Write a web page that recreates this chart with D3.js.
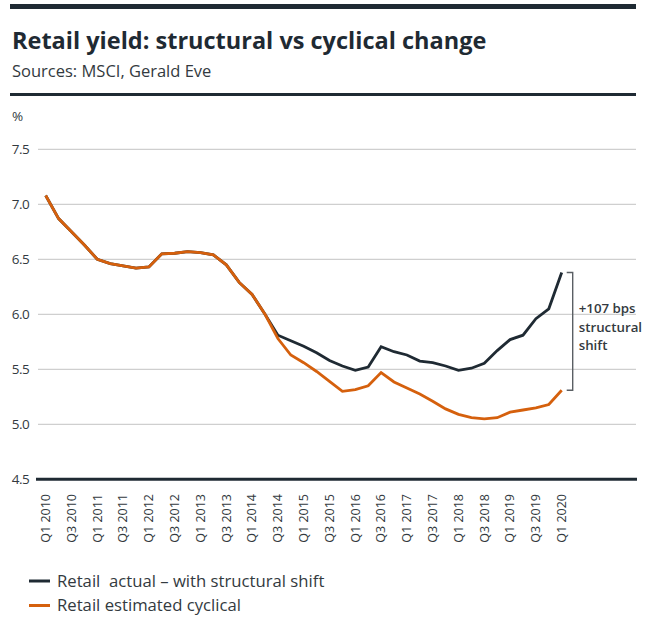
<!DOCTYPE html>
<html>
<head>
<meta charset="utf-8">
<script src="https://cdn.jsdelivr.net/npm/d3@7"></script>
<style>
  html, body { margin: 0; padding: 0; background: #ffffff; }
  svg { display: block; font-family: "Open Sans", "Noto Sans", sans-serif; }
</style>
</head>
<body>
<svg id="chart" width="649" height="617"></svg>
<script>
// Quarterly retail yields (%), Q1 2010 – Q1 2020
const quarters = [
  "Q1 2010","Q2 2010","Q3 2010","Q4 2010",
  "Q1 2011","Q2 2011","Q3 2011","Q4 2011",
  "Q1 2012","Q2 2012","Q3 2012","Q4 2012",
  "Q1 2013","Q2 2013","Q3 2013","Q4 2013",
  "Q1 2014","Q2 2014","Q3 2014","Q4 2014",
  "Q1 2015","Q2 2015","Q3 2015","Q4 2015",
  "Q1 2016","Q2 2016","Q3 2016","Q4 2016",
  "Q1 2017","Q2 2017","Q3 2017","Q4 2017",
  "Q1 2018","Q2 2018","Q3 2018","Q4 2018",
  "Q1 2019","Q2 2019","Q3 2019","Q4 2019",
  "Q1 2020"
];

const retailActual = [
  7.08, 6.87, 6.75, 6.63,
  6.50, 6.46, 6.44, 6.42,
  6.43, 6.55, 6.555, 6.57,
  6.56, 6.54, 6.45, 6.29,
  6.18, 6.00, 5.81, 5.76,
  5.71, 5.65, 5.58, 5.53,
  5.49, 5.52, 5.705, 5.66,
  5.63, 5.575, 5.56, 5.53,
  5.49, 5.51, 5.555, 5.67,
  5.77, 5.81, 5.96, 6.05,
  6.38
];

const retailCyclical = [
  7.08, 6.87, 6.75, 6.63,
  6.50, 6.46, 6.44, 6.42,
  6.43, 6.55, 6.555, 6.57,
  6.56, 6.54, 6.45, 6.29,
  6.18, 6.00, 5.78, 5.63,
  5.56, 5.48, 5.39, 5.30,
  5.315, 5.35, 5.47, 5.385,
  5.33, 5.275, 5.21, 5.14,
  5.09, 5.06, 5.05, 5.06,
  5.11, 5.13, 5.15, 5.18,
  5.31
];

const tickLabels = [
  "Q1 2010","Q3 2010","Q1 2011","Q3 2011","Q1 2012","Q3 2012","Q1 2013",
  "Q3 2013","Q1 2014","Q3 2014","Q1 2015","Q3 2015","Q1 2016","Q3 2016",
  "Q1 2017","Q3 2017","Q1 2018","Q3 2018","Q1 2019","Q3 2019","Q1 2020"
];

const yTicks = [4.5, 5.0, 5.5, 6.0, 6.5, 7.0, 7.5];

const seriesNames = ["Retail  actual \u2013 with structural shift", "Retail estimated cyclical"];
const seriesColors = ["#1f2a33", "#d5600d"];
const shiftLabel = ["+107 bps", "structural", "shift"];

const svg = d3.select("#chart");
const ink = "#1f2a33";
const textColor = "#333a40";

// Header rules, title and source line
svg.append("rect").attr("x", 10).attr("y", 4).attr("width", 626).attr("height", 5).attr("fill", ink);
svg.append("text")
  .attr("x", 12).attr("y", 49)
  .attr("font-size", 23.5).attr("font-weight", 700).attr("fill", ink)
  .text("Retail yield: structural vs cyclical change");
svg.append("text")
  .attr("x", 12).attr("y", 77)
  .attr("font-size", 16.5).attr("fill", textColor)
  .text("Sources: MSCI, Gerald Eve");
svg.append("rect").attr("x", 10).attr("y", 93).attr("width", 626).attr("height", 3).attr("fill", ink);

// Scales
const x = d3.scalePoint().domain(quarters).range([45.7, 561.7]);
const y = d3.scaleLinear().domain([4.5, 7.5]).range([479.3, 149.3]);
const gridLeft = 38, gridRight = 636;

// Unit label
svg.append("text").attr("x", 12).attr("y", 121)
  .attr("font-size", 13.5).attr("fill", textColor).text("%");

// Gridlines and y tick labels
const yAxis = svg.append("g");
yAxis.selectAll("line.grid")
  .data(yTicks.filter(d => d !== 4.5))
  .join("line")
  .attr("class", "grid")
  .attr("x1", gridLeft).attr("x2", gridRight)
  .attr("y1", d => y(d)).attr("y2", d => y(d))
  .attr("stroke", "#c4c4c4").attr("stroke-width", 1);
yAxis.selectAll("text")
  .data(yTicks)
  .join("text")
  .attr("x", 29).attr("y", d => y(d))
  .attr("dy", "0.35em")
  .attr("text-anchor", "end")
  .attr("font-size", 13.5)
  .attr("letter-spacing", -0.6)
  .attr("fill", textColor)
  .text(d => d3.format(".1f")(d));

// Baseline at 4.5
svg.append("line")
  .attr("x1", gridLeft - 2).attr("x2", gridRight + 1)
  .attr("y1", y(4.5)).attr("y2", y(4.5))
  .attr("stroke", ink).attr("stroke-width", 3);

// Category labels, rotated
svg.append("g").selectAll("text")
  .data(tickLabels)
  .join("text")
  .attr("transform", d => `translate(${x(d)},494) rotate(-90)`)
  .attr("dy", "0.35em")
  .attr("text-anchor", "end")
  .attr("font-size", 12.5)
  .attr("fill", textColor)
  .text(d => d);

// Series lines: actual underneath, cyclical on top
const line = d3.line()
  .x((d, i) => x(quarters[i]))
  .y(d => y(d));

[retailActual, retailCyclical].forEach((series, k) => {
  svg.append("path")
    .datum(series)
    .attr("fill", "none")
    .attr("stroke", seriesColors[k])
    .attr("stroke-width", 2.8)
    .attr("stroke-linejoin", "miter")
    .attr("d", line);
});

// Bracket marking the gap between the two series at the last quarter
const last = quarters.length - 1;
const bx = x(quarters[last]) + 11;
const yTop = y(retailActual[last]);
const yBot = y(retailCyclical[last]);
svg.append("path")
  .attr("d", `M${bx - 6},${yTop} H${bx} V${yBot} H${bx - 6}`)
  .attr("fill", "none")
  .attr("stroke", "#5a5f64")
  .attr("stroke-width", 1.4);

svg.append("g").selectAll("text")
  .data(shiftLabel)
  .join("text")
  .attr("x", bx + 6)
  .attr("y", (d, i) => 313 + i * 18.5)
  .attr("font-size", 13.3)
  .attr("font-weight", 600)
  .attr("fill", textColor)
  .text(d => d);

// Legend
const legend = svg.append("g");
seriesNames.forEach((name, i) => {
  const ly = 581 + i * 24.5;
  legend.append("line")
    .attr("x1", 29).attr("x2", 50)
    .attr("y1", ly).attr("y2", ly)
    .attr("stroke", seriesColors[i]).attr("stroke-width", 3);
  legend.append("text")
    .attr("x", 57).attr("y", ly)
    .attr("dy", "0.35em")
    .attr("font-size", 16.7)
    .attr("fill", textColor)
    .style("white-space", "pre")
    .text(name);
});
</script>
</body>
</html>
